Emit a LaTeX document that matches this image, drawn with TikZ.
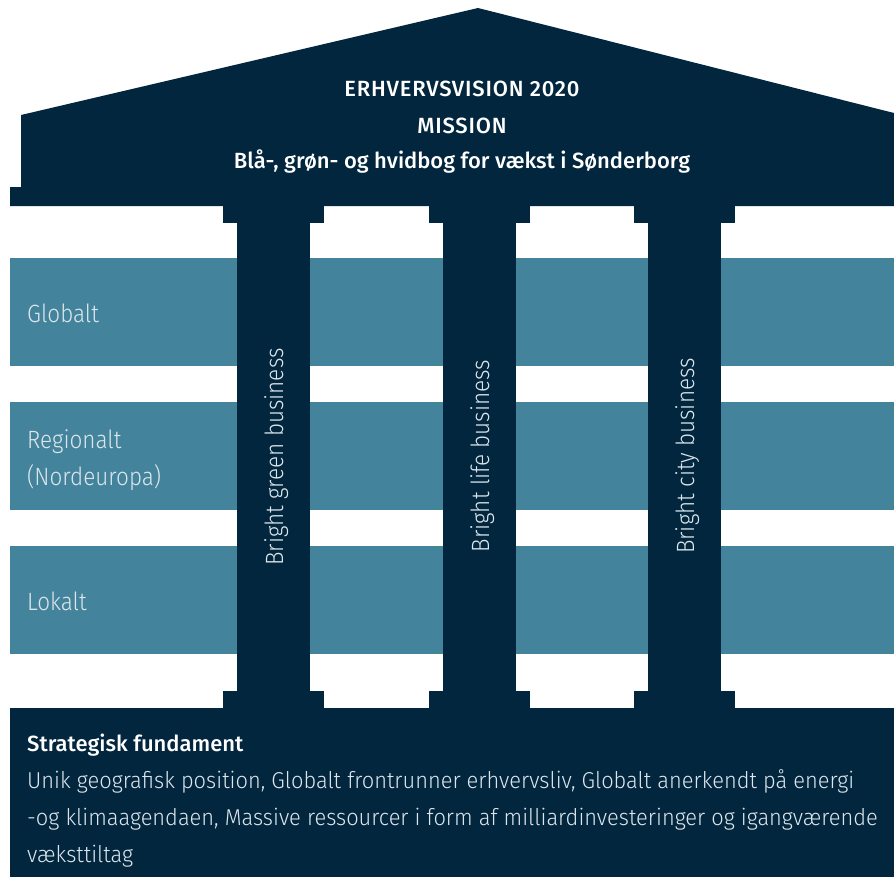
\documentclass[tikz,border=0pt]{standalone}
\usepackage{fontspec}
\setmainfont{Fira Sans Light}[FakeStretch=0.9]
\newfontfamily\bodyf{Fira Sans Light}[FakeStretch=0.95]
\newfontfamily\titlef{Fira Sans Medium}
\newfontfamily\capsf{Fira Sans Medium}[LetterSpace=3.6]
\definecolor{navy}{HTML}{02263E}
\definecolor{teal}{HTML}{43849C}
\definecolor{lighttxt}{HTML}{DCE6EC}
\begin{document}
\begin{tikzpicture}[x=1pt,y=-1pt,
  dark/.style={fill=navy,draw=none},
  band/.style={fill=teal,draw=none},
  lbl/.style={anchor=base west,inner sep=0pt,text=lighttxt,font=\fontsize{25}{30}\selectfont},
  ttl/.style={anchor=base,inner sep=0pt,text=white,font=\titlef\fontsize{22}{26}\selectfont},
  cttl/.style={anchor=base,inner sep=0pt,text=white,font=\capsf\fontsize{22}{26}\selectfont},
  pil/.style={anchor=base,inner sep=0pt,rotate=90,text=lighttxt,font=\fontsize{25}{30}\selectfont},
  body/.style={anchor=base west,inner sep=0pt,text=lighttxt,font=\bodyf\fontsize{23}{27}\selectfont}]
\useasboundingbox (0,0) rectangle (894,878);
% bands
\fill[band] (10,258) rectangle (894,366);
\fill[band] (10,402) rectangle (894,510);
\fill[band] (10,546) rectangle (894,654);
% roof
\fill[dark] (478,8) -- (894,113) -- (894,206) -- (10,206) -- (10,187) -- (21,187) -- (21,115) -- cycle;
% pillars
\foreach \a/\b/\c/\d in {223/237/310/324, 429/443/516/530, 634/648/721/735}{
  \fill[dark] (\a,205) rectangle (\d,223);
  \fill[dark] (\b,205) rectangle (\c,709);
  \fill[dark] (\a,691) rectangle (\d,709);
}
% foundation
\fill[dark] (10,708) rectangle (894,877);
% roof text
\node[cttl] (t1) at (462,96.5) {ERHVERVSVISION 2020};
\node[cttl] (t2) at (462,133) {MISSION};
\node[ttl] (t3) at (462,168) {Blå-, grøn- og hvidbog for vækst i Sønderborg};
% band labels
\node[lbl] (g) at (27,322) {Globalt};
\node[lbl] (r1) at (27,448) {Regionalt};
\node[lbl] (r2) at (27,485) {(Nordeuropa)};
\node[lbl] (l) at (27,610) {Lokalt};
% pillar labels
\node[pil] (p1) at (283,457) {Bright green business};
\node[pil] (p2) at (489,456) {Bright life business};
\node[pil] (p3) at (694,456) {Bright city business};
% foundation text
\node[anchor=base west,inner sep=0pt,text=white,font=\titlef\fontsize{22}{26}\selectfont] (sf) at (27,751) {Strategisk fundament};
\node[body] (b1) at (27,788) {Unik geografisk position, Globalt frontrunner erhvervsliv, Globalt anerkendt på energi};
\node[body] (b2) at (27,825) {-og klimaagendaen, Massive ressourcer i form af milliardinvesteringer og igangværende};
\node[body] (b3) at (27,862) {væksttiltag};
\end{tikzpicture}
\end{document}
